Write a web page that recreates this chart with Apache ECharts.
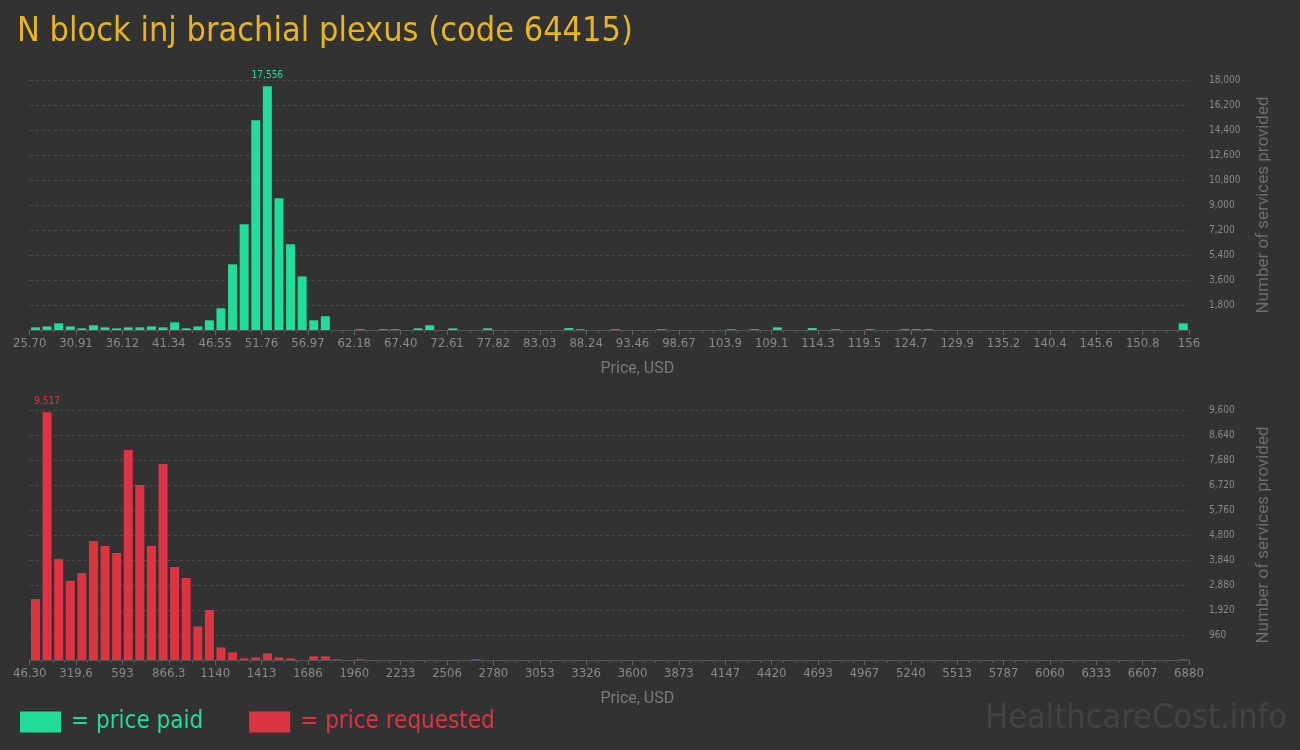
<!DOCTYPE html>
<html><head><meta charset="utf-8">
<script src="https://cdn.jsdelivr.net/npm/echarts@6/dist/echarts.min.js"></script>
<style>html,body{margin:0;padding:0;background:#323232}#c{width:1300px;height:750px}</style>
</head><body><div id="c"></div>
<script>
// ---- data ----
const paidTickLabels = ["25.70","30.91","36.12","41.34","46.55","51.76","56.97","62.18","67.40","72.61","77.82","83.03","88.24","93.46","98.67","103.9","109.1","114.3","119.5","124.7","129.9","135.2","140.4","145.6","150.8","156"];
const requestedTickLabels = ["46.30","319.6","593","866.3","1140","1413","1686","1960","2233","2506","2780","3053","3326","3600","3873","4147","4420","4693","4967","5240","5513","5787","6060","6333","6607","6880"];
const paidCounts = [
  190,260,480,260,120,340,190,120,190,190,
  260,190,550,120,260,700,1560,4730,7610,15100,
  17556,9480,6170,3860,700,990,0,0,50,0,
  50,50,0,120,340,0,120,0,0,120,
  0,0,0,0,0,0,140,50,0,0,
  50,0,0,0,50,0,0,0,0,0,
  50,0,50,0,190,0,0,140,0,50,
  0,0,50,0,0,50,50,50,0,0,
  0,0,0,0,0,0,0,0,0,0,
  0,0,0,0,0,0,0,0,0,480
];
const requestedCounts = [
  2340,9517,3880,3040,3340,4570,4380,4110,8060,6720,
  4380,7530,3570,3150,1290,1920,480,290,64,100,
  256,100,64,0,140,140,26,0,26,0,
  0,0,0,0,0,0,0,0,26,0,
  0,0,0,0,0,0,0,0,0,0,
  0,0,0,0,0,0,0,0,0,0,
  0,0,0,0,0,0,0,0,0,0,
  0,0,0,0,0,0,0,0,0,0,
  0,0,0,0,0,0,0,0,0,0,
  0,0,0,0,0,0,0,0,0,26
];
const paidYTicks = [0,1800,3600,5400,7200,9000,10800,12600,14400,16200,18000];
const requestedYTicks = [0,960,1920,2880,3840,4800,5760,6720,7680,8640,9600];

// ---- style ----
const NARROW = '"DejaVu Sans Condensed","Liberation Sans Narrow",sans-serif';
const GREEN = '#21dc9b', RED = '#dc3443', TXT = '#8a8a8a', AXIS = '#555555', GRID = '#4c4c4c';
const fmt = v => v.toLocaleString('en-US');

function xAxisFor(gridIndex, labels) {
  return {
    type: 'value', gridIndex, min: 0, max: (labels.length - 1) * 4, interval: 4,
    name: 'Price, USD', nameLocation: 'middle', nameGap: 31,
    nameTextStyle: { color: '#7a7a7a', fontSize: 16, fontFamily: 'Roboto', padding: [0, 0, 0, 56] },
    axisLine: { show: true, lineStyle: { color: AXIS } },
    axisTick: { show: true, length: 5, lineStyle: { color: '#666' } },
    minorTick: { show: true, splitNumber: 4, length: 3, lineStyle: { color: '#555' } },
    splitLine: { show: false },
    axisLabel: { color: TXT, fontSize: 13, fontFamily: NARROW, margin: 7,
      formatter: v => labels[Math.round(v / 4)] }
  };
}
function yAxisFor(gridIndex, ticks) {
  return {
    type: 'value', gridIndex, position: 'right', min: ticks[0], max: ticks[ticks.length - 1],
    interval: ticks[1] - ticks[0],
    name: 'Number of services provided', nameLocation: 'middle', nameGap: 66,
    nameTextStyle: { color: '#6e6e6e', fontSize: 17, fontFamily: 'Roboto' },
    axisLine: { show: false },
    axisTick: { show: true, inside: false, length: 18, lineStyle: { color: GRID, type: [3, 3] } },
    splitLine: { show: true, lineStyle: { color: GRID, type: [3, 3] } },
    axisLabel: { color: TXT, fontSize: 10, fontFamily: NARROW, margin: 20,
      formatter: v => v === 0 ? '' : fmt(v) }
  };
}
function barsFor(name, counts, color, xi, yi) {
  const mx = Math.max(...counts);
  return {
    type: 'bar', name, xAxisIndex: xi, yAxisIndex: yi, barWidth: 9,
    itemStyle: { color },
    data: counts.map((v, i) => ({ value: [i + 0.5, v],
      label: { show: v === mx, position: 'top', distance: 6, color, fontSize: 10,
        fontFamily: NARROW, formatter: p => fmt(p.value[1]) } }))
  };
}

const chart = echarts.init(document.getElementById('c'), null, { renderer: 'canvas' });
chart.setOption({
  backgroundColor: '#323232',
  animation: false,
  title: { text: 'N block inj brachial plexus (code 64415)', left: 12, top: 10,
    textStyle: { color: '#e8b521', fontSize: 34, fontWeight: 'normal', fontFamily: NARROW } },
  legend: {
    left: 15, top: 705, itemWidth: 41, itemHeight: 21, itemGap: 46, icon: 'rect',
    formatter: n => '= ' + n,
    data: [
      { name: 'price paid', textStyle: { color: GREEN } },
      { name: 'price requested', textStyle: { color: RED } }
    ],
    textStyle: { fontSize: 24, fontFamily: NARROW, padding: [0, 0, 0, 5] }
  },
  graphic: [{ type: 'text', right: 13, top: 702,
    style: { text: 'HealthcareCost.info', fill: '#434343', fontSize: 34, fontFamily: NARROW } }],
  grid: [
    { left: 29.7, right: 111, top: 80, height: 250 },
    { left: 29.7, right: 111, top: 410, height: 250 }
  ],
  xAxis: [xAxisFor(0, paidTickLabels), xAxisFor(1, requestedTickLabels)],
  yAxis: [yAxisFor(0, paidYTicks), yAxisFor(1, requestedYTicks)],
  series: [
    barsFor('price paid', paidCounts, GREEN, 0, 0),
    barsFor('price requested', requestedCounts, RED, 1, 1)
  ]
});
</script></body></html>
